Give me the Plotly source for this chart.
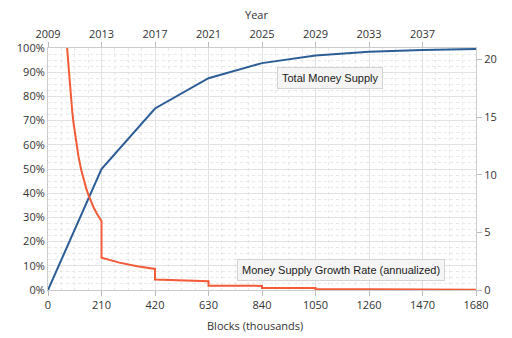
import plotly.graph_objects as go

# Block height (thousands) and share of the final 21M coin supply issued (%)
supply_blocks = [0, 210, 420, 630, 840, 1050, 1260, 1470, 1680]
supply_pct = [0, 50, 75, 87.5, 93.75, 96.9, 98.4, 99.2, 99.6]

# Annualized growth rate of the money supply (%), stepping down at each halving
growth_blocks = [75, 80, 85, 90, 95, 100, 110, 120, 130, 140, 150, 160, 170, 180, 190, 200, 210,
                 210, 280, 350, 420,
                 420, 525, 630,
                 630, 840,
                 840, 1050,
                 1050, 1260,
                 1260, 1470,
                 1470, 1680]
growth_pct = [100, 92.9, 85.6, 79.3, 73.9, 69.2, 61.3, 55.0, 49.8, 45.6, 42.0, 38.9, 36.2, 33.9, 31.9, 30.1, 28.4,
              13.3, 11.3, 9.8, 8.7,
              4.3, 3.9, 3.6,
              1.8, 1.7,
              0.84, 0.81,
              0.40, 0.40,
              0.20, 0.19,
              0.10, 0.10]

block_ticks = [0, 210, 420, 630, 840, 1050, 1260, 1470, 1680]
year_ticks = [2009, 2013, 2017, 2021, 2025, 2029, 2033, 2037]
year_range = [2009, 2041]
coin_ticks = [0, 5, 10, 15, 20]

BLUE = "#2c5d96"
RED = "#f25a38"
TICK_FONT = dict(family="Open Sans", size=11, color="#333333")
GRID = "#e2e2e2"
MINOR_GRID = "#e8e8e8"

fig = go.Figure()

fig.add_trace(go.Scatter(x=supply_blocks, y=supply_pct, mode="lines",
                         line=dict(color=BLUE, width=2), showlegend=False, hoverinfo="skip"))
fig.add_trace(go.Scatter(x=growth_blocks, y=growth_pct, mode="lines",
                         line=dict(color=RED, width=2), showlegend=False, hoverinfo="skip"))
# anchors the year axis along the top
fig.add_trace(go.Scatter(x=year_range, y=[None, None], xaxis="x2", yaxis="y",
                         mode="lines", showlegend=False, hoverinfo="skip"))
# anchors the coin-count axis on the right
fig.add_trace(go.Scatter(x=[None, None], y=[0, 21], xaxis="x", yaxis="y2",
                         mode="lines", showlegend=False, hoverinfo="skip"))

fig.update_layout(
    width=512, height=338,
    margin=dict(l=47.5, r=36, t=48, b=48),
    paper_bgcolor="white", plot_bgcolor="white",
    xaxis=dict(range=[0, 1680], tickvals=block_ticks, ticks="outside", ticklen=5,
               tickcolor="#bbbbbb", showline=True, linecolor="#cccccc", linewidth=1,
               mirror=False, gridcolor=GRID, zeroline=False, tickfont=TICK_FONT,
               minor=dict(dtick=52.5, showgrid=True, gridcolor=MINOR_GRID, griddash="dot")),
    xaxis2=dict(range=year_range, tickvals=year_ticks, side="top", overlaying="x",
                ticks="outside", ticklen=5, tickcolor="#bbbbbb", showline=True,
                linecolor="#cccccc", showgrid=False, zeroline=False, tickfont=TICK_FONT),
    yaxis=dict(range=[0, 100], dtick=10, ticksuffix="%", showline=True, linecolor="#cccccc",
               gridcolor=GRID, zeroline=False, tickfont=TICK_FONT, ticks="",
               minor=dict(dtick=2.5, showgrid=True, gridcolor=MINOR_GRID, griddash="dot")),
    yaxis2=dict(range=[0, 21], tickvals=coin_ticks, side="right", overlaying="y",
                ticks="outside", ticklen=5, tickcolor="#bbbbbb", showline=True,
                linecolor="#cccccc", showgrid=False, zeroline=False, tickfont=TICK_FONT),
    font=dict(family="Open Sans", color="#333333"),
)

# axis titles
fig.add_annotation(text="Year", xref="paper", yref="paper", x=0.487, y=1,
                   yshift=34, yanchor="middle", showarrow=False,
                   font=dict(family="Open Sans", size=11, color="#333333"))
fig.add_annotation(text="Blocks (thousands)", xref="paper", yref="paper", x=0.483, y=0,
                   yshift=-35, yanchor="middle", showarrow=False,
                   font=dict(family="Open Sans", size=11, color="#333333"))

# series labels in light shaded boxes
labels = [("Total Money Supply", 1107, 87.6), ("Money Supply Growth Rate (annualized)", 1149, 8.3)]
for text, bx, by in labels:
    fig.add_annotation(text=text, x=bx, y=by, xref="x", yref="y", showarrow=False,
                       bgcolor="#f5f5f5", bordercolor="#d4d4d4", borderwidth=1, borderpad=4,
                       font=dict(family="Liberation Sans", size=11, color="#1a1a1a"))

fig.write_html("out.html")
